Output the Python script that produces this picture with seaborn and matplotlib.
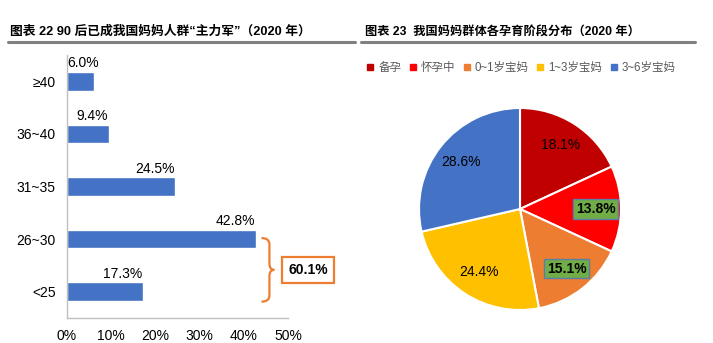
import matplotlib
matplotlib.use("Agg")
import matplotlib.pyplot as plt
from matplotlib.path import Path
from matplotlib.patches import PathPatch
from matplotlib.lines import Line2D
import seaborn as sns
import pandas as pd

# ---- data ----
age_groups = ["≥40", "36~40", "31~35", "26~30", "<25"]
age_share = [6.0, 9.4, 24.5, 42.8, 17.3]
x_ticks = [0, 10, 20, 30, 40, 50]
x_tick_labels = ["0%", "10%", "20%", "30%", "40%", "50%"]
combined_label = "60.1%"

stages = ["备孕", "怀孕中", "0~1岁宝妈", "1~3岁宝妈", "3~6岁宝妈"]
stage_share = [18.1, 13.8, 15.1, 24.4, 28.6]
stage_colors = ["#C00000", "#FF0000", "#ED7D31", "#FFC000", "#4472C4"]
highlight_stages = ["怀孕中", "0~1岁宝妈"]

title_left = "图表 22 90 后已成我国妈妈人群“主力军”（2020 年）"
title_right = "图表 23  我国妈妈群体各孕育阶段分布（2020 年）"

sns.set_theme(style="white")
FAM = ["Liberation Sans", "Noto Sans CJK SC", "DejaVu Sans"]
plt.rcParams["font.family"] = FAM

W, H = 713, 343
fig = plt.figure(figsize=(W / 100, H / 100), dpi=100)

def fx(px):
    return px / W

def fy(py):
    return 1 - py / H

# ---- titles ----
fig.text(fx(10), fy(32), title_left, fontsize=9.2, fontweight="bold", ha="left", va="center", color="#000000")
fig.text(fx(365), fy(32), title_right, fontsize=8.8, fontweight="bold", ha="left", va="center", color="#000000")
fig.add_artist(Line2D([fx(8), fx(355)], [fy(42), fy(42)], color="#808080", lw=2.2, transform=fig.transFigure))
fig.add_artist(Line2D([fx(361), fx(695)], [fy(42), fy(42)], color="#808080", lw=2.2, transform=fig.transFigure))

# ---- left bar chart ----
ax = fig.add_axes([fx(67), fy(318), fx(288) - fx(67), fy(55) - fy(318)])
df = pd.DataFrame({"age": age_groups, "share": age_share})
sns.barplot(data=df, y="age", x="share", order=age_groups, orient="h",
            color="#4472C4", saturation=1, width=0.35, ax=ax)
ax.set_xlim(0, 50)
ax.set_ylim(len(age_groups) - 0.5, -0.5)
ax.set_xlabel("")
ax.set_ylabel("")
ax.set_xticks(x_ticks)
ax.set_xticklabels(x_tick_labels, fontsize=10, color="#000000")
ax.tick_params(axis="y", which="major", length=0, labelsize=10, labelcolor="#000000", pad=8)
ax.set_yticks([i - 0.5 for i in range(len(age_groups) + 1)], minor=True)
ax.tick_params(axis="y", which="minor", length=5, color="#BFBFBF", width=1, direction="out")
ax.tick_params(axis="x", which="major", length=5, color="#BFBFBF", width=1, direction="out", pad=3)
for s in ["top", "right"]:
    ax.spines[s].set_visible(False)
for s in ["left", "bottom"]:
    ax.spines[s].set_color("#BFBFBF")
    ax.spines[s].set_linewidth(1)

for i, v in enumerate(age_share):
    ax.text(max(v - 0.2, 7.3), i - 0.34, f"{v:.1f}%", ha="right", va="center", fontsize=10, color="#000000")

# brace spanning 26~30 and <25
ytop, ybot = 2.98, 4.19
ymid = (ytop + ybot) / 2
xl, xv, xt = 44.0, 45.8, 46.9
c = 0.12
verts = [(xl, ytop), (xv, ytop), (xv, ytop + c),
         (xv, ymid - c), (xv, ymid), (xt, ymid),
         (xv, ymid), (xv, ymid + c),
         (xv, ybot - c), (xv, ybot), (xl, ybot)]
codes = [Path.MOVETO, Path.CURVE3, Path.CURVE3,
         Path.LINETO, Path.CURVE3, Path.CURVE3,
         Path.CURVE3, Path.CURVE3,
         Path.LINETO, Path.CURVE3, Path.CURVE3]
brace = PathPatch(Path(verts, codes), facecolor="none", edgecolor="#ED7D31", lw=1.6, clip_on=False)
ax.add_patch(brace)
ax.text(54.6, ymid, combined_label, ha="center", va="center", fontsize=10, fontweight="bold",
        color="#000000", clip_on=False,
        bbox=dict(boxstyle="square,pad=0.45", facecolor="white", edgecolor="#ED7D31", lw=1.6))

# ---- right pie chart ----
R = 101
cx, cy = 520, 209
side = 2.5 * R
pax = fig.add_axes([fx(cx - side / 2), fy(cy + side / 2), side / W, side / H])
wedges, texts, autotexts = pax.pie(stage_share, colors=stage_colors, startangle=90, counterclock=False,
                                   autopct="%1.1f%%", pctdistance=0.75,
                                   wedgeprops=dict(edgecolor="white", linewidth=1.5),
                                   textprops=dict(fontsize=10, color="#000000"))
for name, t in zip(stages, autotexts):
    if name in highlight_stages:
        t.set_fontweight("bold")
        t.set_bbox(dict(boxstyle="square,pad=0.2", facecolor="#70AD47", edgecolor="#5B7DA8", lw=1))

handles = [Line2D([0], [0], marker="s", linestyle="none", markersize=4,
                  markerfacecolor=col, markeredgecolor=col) for col in stage_colors]
fig.legend(handles, stages, loc="center", bbox_to_anchor=(fx(521), fy(68)), ncol=5, frameon=False,
           fontsize=8.3, labelcolor="#595959", handlelength=0.7, handletextpad=0.35, columnspacing=0.65,
           borderaxespad=0)

fig.savefig("out.png", dpi=100)
